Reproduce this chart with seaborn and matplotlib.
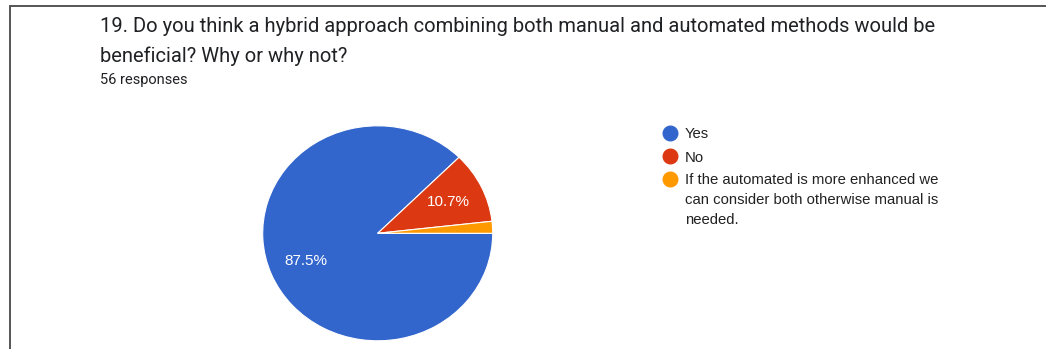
import matplotlib
matplotlib.use("Agg")
import matplotlib.pyplot as plt
from matplotlib.lines import Line2D
import seaborn as sns

# ---- data ----
title_lines = ["19. Do you think a hybrid approach combining both manual and automated methods would be",
               "beneficial? Why or why not?"]
subtitle = "56 responses"
categories = ["Yes", "No", "If the automated is more enhanced we\ncan consider both otherwise manual is\nneeded."]
counts = [49, 6, 1]
colors = ["#3366cc", "#dc3912", "#ff9900"]

sns.set_theme(style="white")
plt.rcParams['font.family'] = ['Roboto', 'DejaVu Sans']
ARIAL = ["Liberation Sans", "DejaVu Sans"]

W, H = 1046, 349
fig = plt.figure(figsize=(W / 100, H / 100), dpi=100)
fig.patch.set_facecolor("white")

def fx(x):
    return x / W

def fy(y):
    return 1 - y / H

# border lines
fig.add_artist(Line2D([fx(10), fx(10)], [fy(6), fy(349)], color="#555555", lw=1.4))
fig.add_artist(Line2D([fx(10), fx(1046)], [fy(6), fy(6)], color="#555555", lw=1.4))

# title
fig.text(fx(100), fy(32.5), title_lines[0], fontsize=14.5, color="#202124", va="baseline", ha="left")
fig.text(fx(100), fy(61.5), title_lines[1], fontsize=14.5, color="#202124", va="baseline", ha="left")
fig.text(fx(100), fy(84), subtitle, fontsize=10.5, color="#202124", va="baseline", ha="left")

# pie axes (slightly elliptical like the reference)
cx, cy, rx, ry = 377.7, 233.3, 115, 107.5
ax = fig.add_axes([fx(cx - rx), fy(cy + ry), 2 * rx / W, 2 * ry / H])

def pct(p):
    return f"{p:.1f}%" if p >= 5 else ""

wedges, texts, autotexts = ax.pie(
    counts, colors=colors, startangle=0, counterclock=False,
    autopct=pct, pctdistance=0.68,
    wedgeprops=dict(edgecolor="white", linewidth=0.8),
    textprops=dict(color="white", fontsize=11, family=ARIAL),
)
ax.set_aspect("auto")
ax.set_xlim(-1, 1)
ax.set_ylim(-1, 1)
ax.axis("off")

# legend
leg_y = [133, 156, 179]
line_step = 19.5
for lab, col, y in zip(categories, colors, leg_y):
    fig.add_artist(Line2D([fx(670)], [fy(y)], marker="o", markersize=10.5,
                          color=col, markeredgecolor=col, linestyle="none"))
    for i, part in enumerate(lab.split("\n")):
        fig.text(fx(685), fy(y + i * line_step), part, fontsize=10.7, color="#222222",
                 va="center_baseline", ha="left", family=ARIAL)

fig.savefig("out.png", dpi=100, facecolor="white")
